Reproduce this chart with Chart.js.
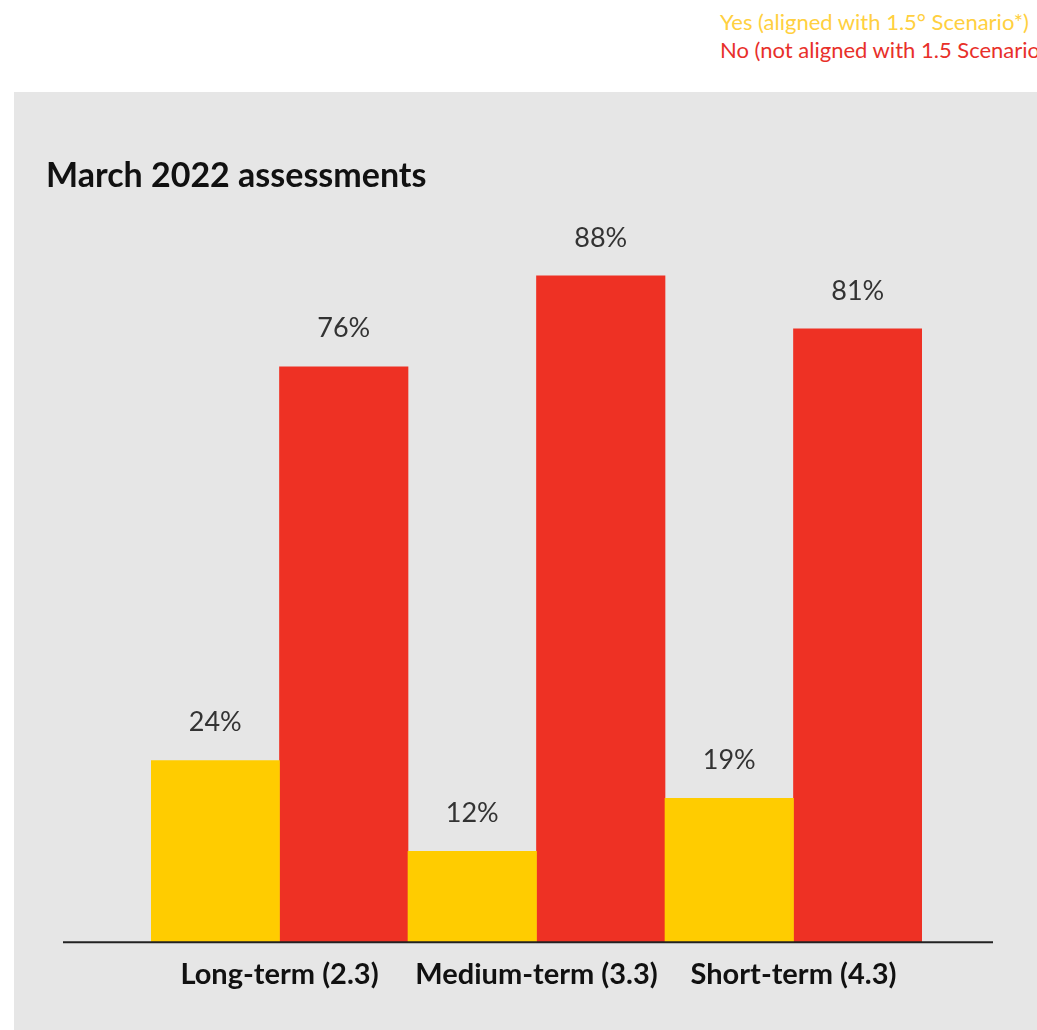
<!DOCTYPE html>
<html>
<head>
<meta charset="utf-8">
<script src="https://cdn.jsdelivr.net/npm/chart.js@4"></script>
<style>
  html, body { margin: 0; padding: 0; background: #fff; width: 1037px; height: 1030px; overflow: hidden; font-family: Lato, "Noto Sans", sans-serif; }
  #legend { position: absolute; left: 720px; top: 8px; font-size: 22px; line-height: 28px; white-space: nowrap; }
  #legend .yes { color: #FFD040; }
  #legend .no { color: #E8302A; }
  #panel { position: absolute; left: 14px; top: 92px; width: 1023px; height: 938px; background: #e6e6e6; }
  #title { position: absolute; left: 32px; top: 61px; font-size: 34px; font-weight: 700; color: #111; }
  #chart { position: absolute; left: 0; top: 0; }
</style>
</head>
<body>
<div id="legend">
  <div class="yes">Yes (aligned with 1.5° Scenario*)</div>
  <div class="no">No (not aligned with 1.5 Scenario*</div>
</div>
<div id="panel">
  <canvas id="chart" width="1023" height="938"></canvas>
  <div id="title">March 2022 assessments</div>
</div>
<script>
// Chart data
const categories = ['Long-term (2.3)', 'Medium-term (3.3)', 'Short-term (4.3)'];
const yesValues = [24, 12, 19];
const noValues = [76, 88, 81];
const seriesNames = ['Yes (aligned with 1.5° Scenario*)', 'No (not aligned with 1.5 Scenario*'];

// Draw value labels above each bar and the long baseline
const valueLabels = {
    id: 'valueLabels',
    afterDatasetsDraw(chart) {
        const ctx = chart.ctx;
        ctx.save();
        ctx.font = '27px Lato, "Noto Sans", sans-serif';
        ctx.fillStyle = '#333';
        ctx.textAlign = 'center';
        ctx.textBaseline = 'middle';
        chart.data.datasets.forEach((ds, i) => {
            chart.getDatasetMeta(i).data.forEach((bar, j) => {
                ctx.fillText(ds.data[j] + '%', bar.x, bar.y - 38);
            });
        });
        // baseline
        const y = chart.scales.y.getPixelForValue(0);
        ctx.strokeStyle = '#222';
        ctx.lineWidth = 2;
        ctx.beginPath();
        ctx.moveTo(49, y);
        ctx.lineTo(979, y);
        ctx.stroke();
        ctx.restore();
    }
};

new Chart(document.getElementById('chart'), {
    type: 'bar',
    data: {
        labels: categories,
        datasets: [{
            label: seriesNames[0],
            data: yesValues,
            backgroundColor: '#FFCC00',
            borderWidth: 0
        }, {
            label: seriesNames[1],
            data: noValues,
            backgroundColor: '#EE3124',
            borderWidth: 0
        }]
    },
    options: {
        responsive: false,
        animation: false,
        layout: {
            padding: { left: 137, right: 115, top: 93, bottom: 23 }
        },
        datasets: {
            bar: { barPercentage: 1, categoryPercentage: 1 }
        },
        plugins: {
            legend: { display: false },
            title: { display: false },
            tooltip: { enabled: false }
        },
        scales: {
            x: {
                grid: { display: false, drawTicks: false },
                border: { display: false },
                ticks: {
                    padding: 15,
                    color: '#111',
                    font: { family: 'Lato, "Noto Sans", sans-serif', size: 29, weight: 'bold' }
                }
            },
            y: {
                display: false,
                min: 0,
                max: 100
            }
        }
    },
    plugins: [valueLabels]
});
</script>
</body>
</html>
